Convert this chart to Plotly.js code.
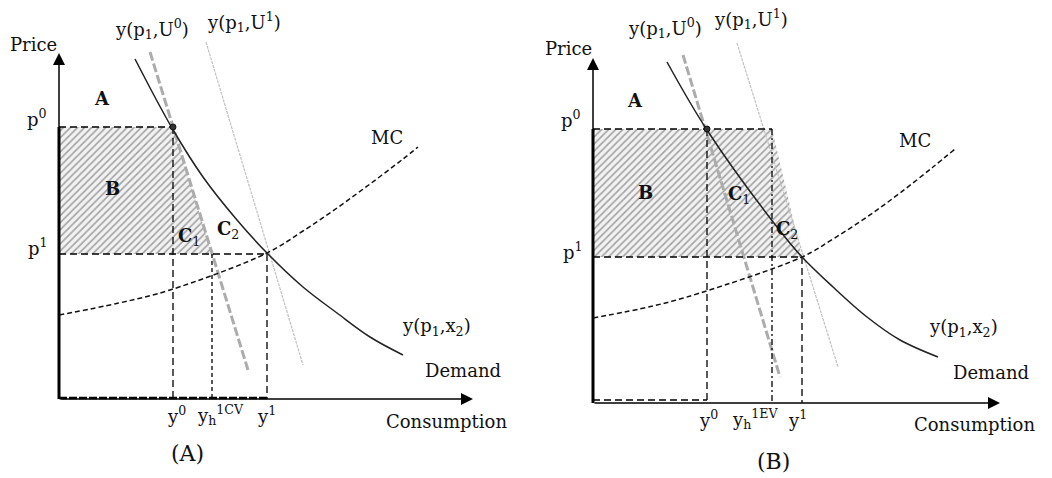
<!DOCTYPE html>
<html>
<head>
<meta charset="utf-8">
<script src="https://cdn.plot.ly/plotly-3.0.1.min.js"></script>
<style>html,body{margin:0;padding:0;background:#fff;}#chart{width:1052px;height:478px;}</style>
</head>
<body>
<div id="chart"></div>
<script>
// ---------- Panel A (compensating variation) ----------
const pA = {p0: 272, p1: 145, y0: 114, yh: 153, y1: 208};
const demandA_x = [76, 113, 144, 178, 208, 244, 278, 311, 344];
const demandA_y = [340, 271, 222, 179, 146, 112, 86, 62, 44];
const mcA_x = [0, 60, 111, 208, 244, 278, 311, 344, 359];
const mcA_y = [84, 96, 109, 146, 168, 191, 215, 240, 252];
const u0A_x = [91, 189];
const u0A_y = [347, 29];
const u1A_x = [147, 244];
const u1A_y = [357, 34];
const axisA = {xTip: 414, yTip: 346};

// ---------- Panel B (equivalent variation) ----------
const pB = {p0: 274, p1: 146, y0: 114, yh: 179, y1: 209};
const demandB_x = [74, 114, 184, 209, 240, 274, 307, 345];
const demandB_y = [341, 273, 176, 146, 116, 86, 63, 46];
const mcB_x = [0, 60, 107, 209, 240, 274, 307, 340, 362];
const mcB_y = [85, 97, 110, 146, 164, 186, 210, 236, 254];
const u0B_x = [90, 187];
const u0B_y = [348, 26];
const u1B_x = [144, 245];
const u1B_y = [360, 36];
const axisB = {xTip: 407, yTip: 345};

// ---------- labels ----------
const labelsA = [
  {t: 'Price', x: -26, y: 355},
  {t: 'p<sup>0</sup>', x: -22, y: 281},
  {t: 'p<sup>1</sup>', x: -21, y: 152},
  {t: '<b>A</b>', x: 43, y: 301},
  {t: '<b>B</b>', x: 53, y: 211},
  {t: '<b>C</b><sub>1</sub>', x: 130, y: 162},
  {t: '<b>C</b><sub>2</sub>', x: 169, y: 169},
  {t: 'y(p<sub>1</sub>,U<sup>0</sup>)', x: 93, y: 370},
  {t: 'y(p<sub>1</sub>,U<sup>1</sup>)', x: 185, y: 377},
  {t: 'MC', x: 328, y: 262},
  {t: 'y(p<sub>1</sub>,x<sub>2</sub>)', x: 377, y: 72},
  {t: 'Demand', x: 404, y: 29},
  {t: 'y<sup>0</sup>', x: 117, y: -16},
  {t: 'y<sub>h</sub><sup>1CV</sup>', x: 161, y: -16},
  {t: 'y<sup>1</sup>', x: 207, y: -16},
  {t: 'Consumption', x: 387, y: -22},
  {t: '(A)', x: 128, y: -54, big: true}
];
const labelsB = [
  {t: 'Price', x: -25, y: 355},
  {t: 'p<sup>0</sup>', x: -22, y: 284},
  {t: 'p<sup>1</sup>', x: -20, y: 152},
  {t: '<b>A</b>', x: 42, y: 303},
  {t: '<b>B</b>', x: 52, y: 211},
  {t: '<b>C</b><sub>1</sub>', x: 146, y: 208},
  {t: '<b>C</b><sub>2</sub>', x: 194, y: 173},
  {t: 'y(p<sub>1</sub>,U<sup>0</sup>)', x: 72, y: 375},
  {t: 'y(p<sub>1</sub>,U<sup>1</sup>)', x: 158, y: 384},
  {t: 'MC', x: 322, y: 263},
  {t: 'y(p<sub>1</sub>,x<sub>2</sub>)', x: 370, y: 75},
  {t: 'Demand', x: 398, y: 31},
  {t: 'y<sup>0</sup>', x: 115, y: -16},
  {t: 'y<sub>h</sub><sup>1EV</sup>', x: 162, y: -16},
  {t: 'y<sup>1</sup>', x: 204, y: -16},
  {t: 'Consumption', x: 381, y: -21},
  {t: '(B)', x: 180, y: -58, big: true}
];

const INK = '#000';
const DASH = '7px,4px';

function seg(xs, ys, xa, ya, line, extra) {
  return Object.assign({x: xs, y: ys, xaxis: xa, yaxis: ya, mode: 'lines', line: line, hoverinfo: 'skip'}, extra || {});
}

function panel(P, dem_x, dem_y, mc_x, mc_y, u0x, u0y, u1x, u1y, xa, ya, isB) {
  const tr = [];
  // hatched welfare area
  const hx = isB ? [0, 0, P.yh, P.y1, 0] : [0, 0, P.y0, P.yh, 0];
  const hy = [P.p1, P.p0, P.p0, P.p1, P.p1];
  tr.push({x: hx, y: hy, xaxis: xa, yaxis: ya, mode: 'lines', fill: 'toself', line: {width: 0},
    fillcolor: 'rgba(0,0,0,0)',
    fillpattern: {shape: '/', fgcolor: '#a0a0a0', bgcolor: '#f2f2f2', size: 5, solidity: 0.3},
    hoverinfo: 'skip'});
  // compensated demands
  tr.push(seg(u1x, u1y, xa, ya, {color: '#c0c0c0', width: 1.2, dash: '3px,1px'}));
  tr.push(seg(u0x, u0y, xa, ya, {color: '#acacac', width: 3, dash: '9px,3px'}));
  // reference dashed lines
  const topEnd = isB ? P.yh : P.y0;
  const L = {color: INK, width: 1.3, dash: DASH};
  tr.push(seg([0, topEnd], [P.p0, P.p0], xa, ya, L));
  tr.push(seg([P.y0, P.y0], [P.p0, isB ? 3 : 0], xa, ya, L));
  tr.push(seg([0, P.y1], [P.p1, P.p1], xa, ya, L));
  tr.push(seg([P.y1, P.y1], [P.p1, 0], xa, ya, L));
  tr.push(seg([P.yh, P.yh], [isB ? P.p0 : P.p1, 0], xa, ya, {color: INK, width: 1.3, dash: isB ? '6px,3px,2px,3px' : '4px,3px'}));
  if (isB) {
    tr.push(seg([0, P.y0], [3, 3], xa, ya, {color: INK, width: 1.5, dash: DASH}));
  } else {
    tr.push(seg([0, P.y1], [1, 1], xa, ya, {color: INK, width: 2.6, dash: '8px,2px'}));
  }
  // thick left axis below p0
  tr.push(seg([0, 0], [0, P.p0], xa, ya, {color: '#000', width: 3}));
  // MC and demand
  tr.push(seg(mc_x, mc_y, xa, ya, {color: '#111', width: 1.5, dash: '5px,3px', shape: 'spline'}));
  tr.push(seg(dem_x, dem_y, xa, ya, {color: '#222', width: 1.5, shape: 'spline'}));
  // initial point
  tr.push({x: [P.y0], y: [P.p0], xaxis: xa, yaxis: ya, mode: 'markers',
    marker: {size: 6, color: '#333', line: {color: '#111', width: 1}}, hoverinfo: 'skip'});
  return tr;
}

const data = [].concat(
  panel(pA, demandA_x, demandA_y, mcA_x, mcA_y, u0A_x, u0A_y, u1A_x, u1A_y, 'x', 'y', false),
  panel(pB, demandB_x, demandB_y, mcB_x, mcB_y, u0B_x, u0B_y, u1B_x, u1B_y, 'x2', 'y2', true)
);

const annotations = [];
function addLabels(list, xr, yr) {
  list.forEach(l => annotations.push({
    text: l.t, x: l.x, y: l.y, xref: xr, yref: yr, showarrow: false,
    xanchor: 'center', yanchor: 'middle',
    font: {family: 'DejaVu Serif, Liberation Serif, serif', size: l.big ? 22 : 18, color: '#111'}
  }));
}
function addAxes(ax, xr, yr) {
  const common = {xref: xr, yref: yr, axref: xr, ayref: yr, text: '', showarrow: true,
    arrowhead: 2, arrowsize: 1.6, arrowwidth: 1.5, arrowcolor: '#000', standoff: 0, startstandoff: 0};
  annotations.push(Object.assign({x: 0, y: ax.yTip, ax: 0, ay: 0}, common));
  annotations.push(Object.assign({x: ax.xTip, y: 0, ax: 0, ay: 0}, common));
}
addAxes(axisA, 'x', 'y');
addAxes(axisB, 'x2', 'y2');
addLabels(labelsA, 'x', 'y');
addLabels(labelsB, 'x2', 'y2');

const hidden = {visible: false, showgrid: false, zeroline: false, fixedrange: true};
const layout = {
  width: 1052, height: 478,
  margin: {l: 0, r: 0, t: 0, b: 0, pad: 0},
  paper_bgcolor: '#fff', plot_bgcolor: '#fff',
  showlegend: false,
  xaxis: Object.assign({domain: [0, 0.5], range: [-59, 467]}, hidden),
  yaxis: Object.assign({domain: [0, 1], range: [-79, 399]}, hidden),
  xaxis2: Object.assign({domain: [0.5, 1], range: [-67, 459], anchor: 'y2'}, hidden),
  yaxis2: Object.assign({domain: [0, 1], range: [-75, 403], anchor: 'x2'}, hidden),
  annotations: annotations
};

Plotly.newPlot('chart', data, layout, {staticPlot: true, displayModeBar: false});
</script>
</body>
</html>
